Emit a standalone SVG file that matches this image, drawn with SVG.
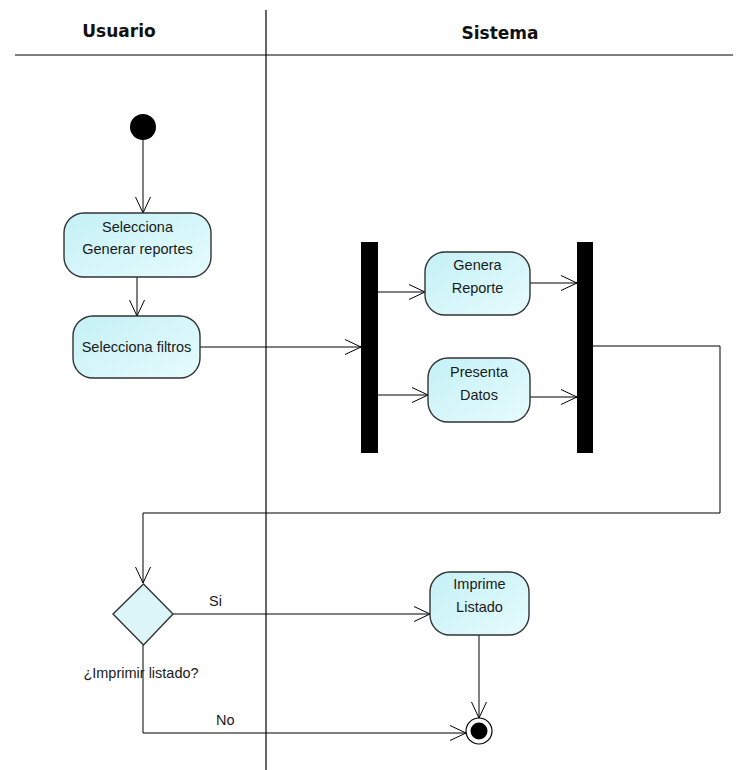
<svg xmlns="http://www.w3.org/2000/svg" width="739" height="770" viewBox="0 0 739 770">
<defs>
<linearGradient id="cyan" x1="0" y1="0" x2="1" y2="1">
<stop offset="0" stop-color="#c4f1f6"/>
<stop offset="1" stop-color="#e6fbfd"/>
</linearGradient>
<marker id="arr" markerUnits="userSpaceOnUse" markerWidth="18" markerHeight="18" viewBox="0 0 18 18" refX="17" refY="9" orient="auto">
<path d="M1,1.5 L17,9 L1,16.5" fill="none" stroke="#000" stroke-width="1"/>
</marker>
</defs>
<style>
.lane{stroke:#000;stroke-width:1.2;fill:none}
.hdr{font-family:"DejaVu Sans",sans-serif;font-weight:bold;font-size:17px;fill:#111}
.act{fill:url(#cyan);stroke:#333;stroke-width:1.4}
.dec{fill:#dcf5f8;stroke:#333;stroke-width:1.4}
.t{font-family:"Liberation Sans",Arial,sans-serif;font-size:14.5px;fill:#1a1a1a;text-anchor:middle}
.lbl{font-family:"Liberation Sans",Arial,sans-serif;font-size:14.5px;fill:#1a1a1a}
.c{stroke:#000;stroke-width:1;fill:none}
.bar{fill:#000}
</style>
<rect width="739" height="770" fill="#fff"/>
<g id="lanes">
<line class="lane" x1="15" y1="55" x2="733" y2="55"/>
<line class="lane" x1="266" y1="10" x2="266" y2="770"/>
<text class="hdr" x="119" y="37" text-anchor="middle">Usuario</text>
<text class="hdr" x="500" y="39" text-anchor="middle">Sistema</text>
</g>
<g id="connectors">
<line class="c" x1="143" y1="140" x2="143" y2="213" marker-end="url(#arr)"/>
<line class="c" x1="137" y1="277" x2="137" y2="316" marker-end="url(#arr)"/>
<line class="c" x1="200" y1="347" x2="361" y2="347" marker-end="url(#arr)"/>
<line class="c" x1="378" y1="292" x2="425" y2="292" marker-end="url(#arr)"/>
<line class="c" x1="378" y1="395" x2="428" y2="395" marker-end="url(#arr)"/>
<line class="c" x1="530" y1="283" x2="577" y2="283" marker-end="url(#arr)"/>
<line class="c" x1="530" y1="397" x2="577" y2="397" marker-end="url(#arr)"/>
<polyline class="c" points="593,346 720,346 720,513 143,513 143,583" marker-end="url(#arr)"/>
<line class="c" x1="173" y1="614" x2="430" y2="614" marker-end="url(#arr)"/>
<text class="lbl" x="209" y="606">Si</text>
<polyline class="c" points="143,645 143,733 466,733" marker-end="url(#arr)"/>
<text class="lbl" x="216" y="725">No</text>
<line class="c" x1="479" y1="635" x2="479" y2="718" marker-end="url(#arr)"/>
</g>
<g id="start">
<circle cx="143" cy="127" r="13" fill="#000"/>
</g>
<g id="selecciona-generar">
<rect class="act" x="64" y="213" width="147" height="64" rx="20" ry="20"/>
<text class="t" x="137.5" y="232">Selecciona</text>
<text class="t" x="137.5" y="254">Generar reportes</text>
</g>
<g id="selecciona-filtros">
<rect class="act" x="73" y="316" width="127" height="62" rx="20" ry="20"/>
<text class="t" x="136.5" y="352">Selecciona filtros</text>
</g>
<g id="fork1">
<rect class="bar" x="361" y="242" width="17" height="211"/>
</g>
<g id="genera-reporte">
<rect class="act" x="425" y="252" width="105" height="63" rx="20" ry="20"/>
<text class="t" x="477.5" y="270">Genera</text>
<text class="t" x="477.5" y="293">Reporte</text>
</g>
<g id="presenta-datos">
<rect class="act" x="428" y="358" width="102" height="64" rx="20" ry="20"/>
<text class="t" x="479" y="377">Presenta</text>
<text class="t" x="479" y="400">Datos</text>
</g>
<g id="fork2">
<rect class="bar" x="577" y="242" width="16" height="211"/>
</g>
<g id="decision">
<polygon class="dec" points="143.5,584 173,614 143.5,645 113,614"/>
<text class="t" x="141" y="678">¿Imprimir listado?</text>
</g>
<g id="imprime-listado">
<rect class="act" x="430" y="572" width="99" height="63" rx="20" ry="20"/>
<text class="t" x="479.5" y="589">Imprime</text>
<text class="t" x="479.5" y="612">Listado</text>
</g>
<g id="end">
<circle cx="479" cy="731" r="13" fill="#fff" stroke="#000" stroke-width="1.2"/>
<circle cx="479" cy="731" r="8.5" fill="#000"/>
</g>
</svg>
